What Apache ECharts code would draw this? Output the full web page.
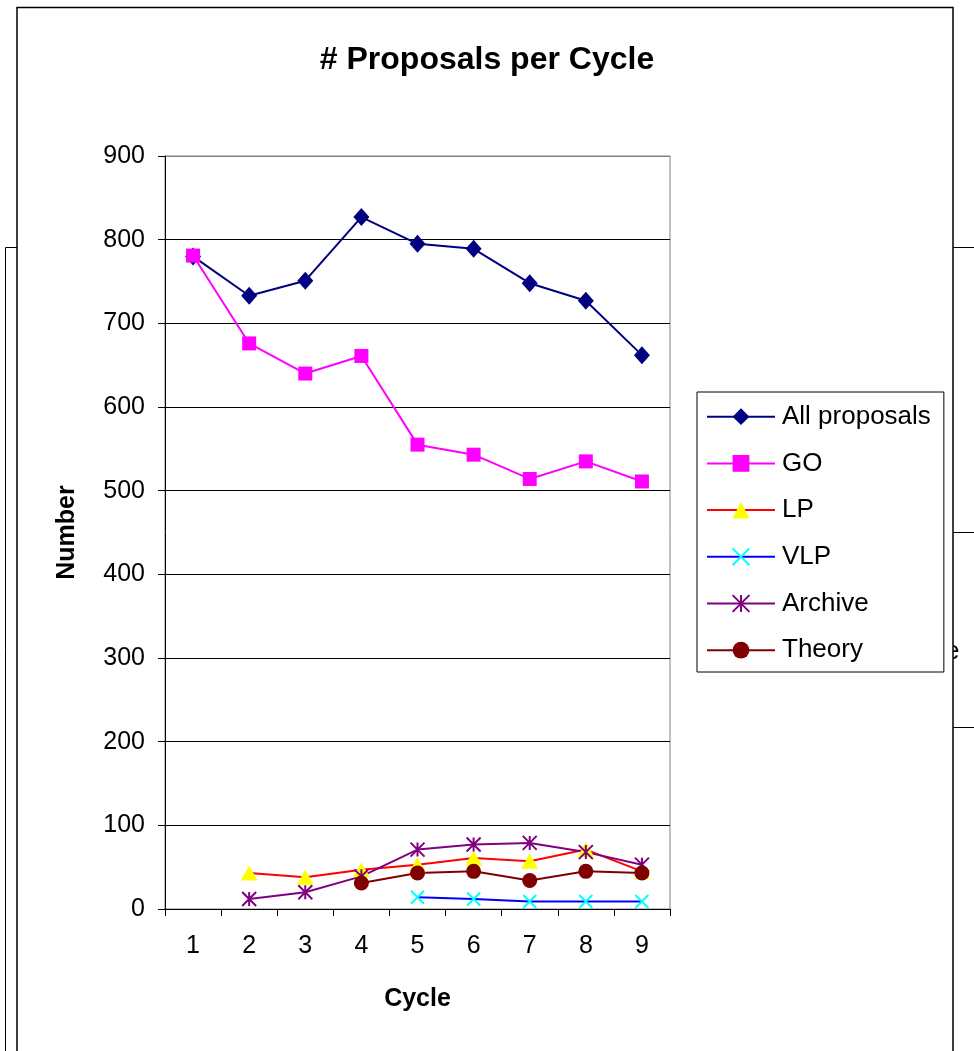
<!DOCTYPE html>
<html>
<head>
<meta charset="utf-8">
<title># Proposals per Cycle</title>
<script src="https://cdn.jsdelivr.net/npm/echarts@6/dist/echarts.min.js"></script>
<style>
    html, body {margin: 0; padding: 0; background: #fff;}
    #main {width: 974px; height: 1051px;}
</style>
</head>
<body>
<div id="main"></div>
<script>
// values
const cycles = ['1', '2', '3', '4', '5', '6', '7', '8', '9'];
const allProposals = [780, 733, 751, 827, 795, 789, 748, 727, 662];
const go = [781, 676, 640, 661, 555, 543, 514, 535, 511];
const lp = [null, 43, 38, 47, 53, 61, 57, 71, 45];
const vlp = [null, null, null, null, 14, 12, 9, 9, 9];
const archive = [null, 12, 20, 39, 71, 77, 79, 68, 53];
const theory = [null, null, null, 31, 43, 45, 34, 45, 43];
const yTicks = {min: 0, max: 900, interval: 100};

const FONT = "'Liberation Sans', Arial, sans-serif";
const X_MARK = 'path://M0,0L10,10M10,0L0,10';
const STAR_MARK = 'path://M5,0L5,10M0,0L10,10M10,0L0,10';

const chartDom = document.getElementById('main');
const myChart = echarts.init(chartDom, null, {renderer: 'canvas'});
let option;

const mkSeries = (name, data, lineColor, symbol, size, itemStyle) => ({
    name: name,
    type: 'line',
    data: data,
    symbol: symbol,
    symbolSize: size,
    showAllSymbol: true,
    lineStyle: {color: lineColor, width: 2},
    itemStyle: itemStyle,
    emphasis: {disabled: true},
    animation: false
})

// grid split lines: black, the top one grey like the plot border
const splitColors = [];
for (let i = 0; i < 10; i++) splitColors.push(i === 9 ? '#808080' : '#000');

option = {
    backgroundColor: '#fff',
    animation: false,
    title: {
        text: '# Proposals per Cycle',
        left: 'center',
        top: 39,
        textStyle: {fontFamily: FONT, fontSize: 32, fontWeight: 'bold', color: '#000'}
    },
    graphic: [
        // bits of the document behind the chart frame
        {type: 'rect', z: -30, silent: true,
            shape: {x: 5.5, y: 247.5, width: 1000, height: 900},
            style: {fill: 'none', stroke: '#000', lineWidth: 1}},
        {type: 'line', z: -30, silent: true,
            shape: {x1: 953, y1: 532.5, x2: 974, y2: 532.5},
            style: {stroke: '#000', lineWidth: 1}},
        {type: 'line', z: -30, silent: true,
            shape: {x1: 953, y1: 727.5, x2: 974, y2: 727.5},
            style: {stroke: '#000', lineWidth: 1}},
        {type: 'text', z: -30, silent: true, x: 945, y: 652,
            style: {text: 'e', font: '26px ' + FONT, fill: '#000', verticalAlign: 'middle'}},
        // chart frame
        {type: 'rect', z: -20, silent: true,
            shape: {x: 17, y: 7.5, width: 936, height: 1100},
            style: {fill: '#fff', stroke: '#000', lineWidth: 1.5}}
    ],
    legend: {
        orient: 'vertical',
        left: 697,
        top: 392,
        padding: [11.7, 13, 8.8, 9],
        itemWidth: 68,
        itemHeight: 21,
        itemGap: 20.7,
        borderColor: '#000',
        borderWidth: 1,
        backgroundColor: '#fff',
        selectedMode: false,
        textStyle: {fontFamily: FONT, fontSize: 26, color: '#000', lineHeight: 21, padding: [0, 0, 0, 2]},
        data: ['All proposals', 'GO', 'LP', 'VLP', 'Archive', 'Theory']
    },
    grid: {
        left: 165,
        right: 304,
        top: 156,
        bottom: 142,
        show: true,
        borderColor: '#808080',
        borderWidth: 1,
        backgroundColor: '#fff'
    },
    xAxis: {
        type: 'category',
        data: cycles,
        boundaryGap: true,
        name: 'Cycle',
        nameLocation: 'middle',
        nameGap: 78,
        nameTextStyle: {fontFamily: FONT, fontSize: 25, fontWeight: 'bold', color: '#000'},
        axisLine: {lineStyle: {color: '#000', width: 1}},
        axisTick: {show: true, length: 7, inside: false, alignWithLabel: false, lineStyle: {color: '#000'}},
        axisLabel: {fontFamily: FONT, fontSize: 25, color: '#000', margin: 25, interval: 0},
        splitLine: {show: false}
    },
    yAxis: {
        type: 'value',
        min: yTicks.min,
        max: yTicks.max,
        interval: yTicks.interval,
        name: 'Number',
        nameLocation: 'middle',
        nameGap: 85,
        nameRotate: 90,
        nameTextStyle: {fontFamily: FONT, fontSize: 25, fontWeight: 'bold', color: '#000'},
        axisLine: {show: true, lineStyle: {color: '#000', width: 1}},
        axisTick: {show: true, length: 7, inside: false, lineStyle: {color: '#000'}},
        axisLabel: {fontFamily: FONT, fontSize: 25, color: '#000', margin: 20},
        splitLine: {show: true, lineStyle: {color: splitColors, width: 1}}
    },
    series: [
        mkSeries('All proposals', allProposals, '#000080', 'diamond', [16, 18], {color: '#000080'}),
        mkSeries('GO', go, '#FF00FF', 'rect', 14, {color: '#FF00FF'}),
        mkSeries('LP', lp, '#FF0000', 'triangle', [17, 15], {color: '#FFFF00'}),
        mkSeries('VLP', vlp, '#0000FF', X_MARK, 13,
            {color: 'transparent', borderColor: '#00FFFF', borderWidth: 2}),
        mkSeries('Archive', archive, '#800080', STAR_MARK, 14,
            {color: 'transparent', borderColor: '#800080', borderWidth: 2}),
        mkSeries('Theory', theory, '#800000', 'circle', 15, {color: '#800000'})
    ]
};

option && myChart.setOption(option);
</script>
</body>
</html>
